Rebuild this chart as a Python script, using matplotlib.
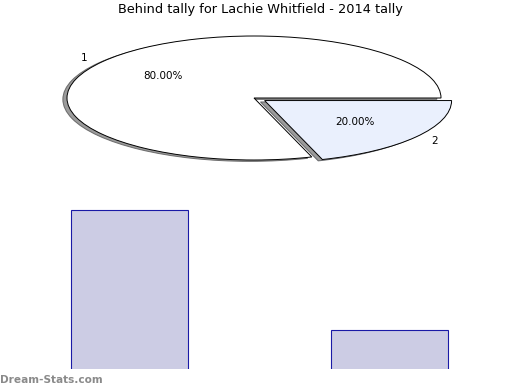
import matplotlib
matplotlib.use('Agg')
import matplotlib.pyplot as plt

title = 'Behind tally for Lachie Whitfield - 2014 tally'
slice_labels = ['1', '2']
slice_values = [80, 20]
slice_colors = ['#ffffff', '#eaf0fd']
bar_cats = ['1', '2']
bar_values = [4, 1]

W, H = 520, 390
fig = plt.figure(figsize=(W / 100, H / 100), dpi=100)

def px_axes(left, top, right, bottom):
    return fig.add_axes([left / W, 1 - bottom / H, (right - left) / W, (bottom - top) / H])

# squashed pie: centre (254, 98), rx 187, ry 62
cx, cy, rx, ry = 254, 98, 187, 62
ax = px_axes(cx - 1.3 * rx, cy - 1.3 * ry, cx + 1.3 * rx, cy + 1.3 * ry)
wedges, texts, autotexts = ax.pie(slice_values, labels=slice_labels, colors=slice_colors,
                                  explode=[0, 0.07], startangle=0, counterclock=True,
                                  autopct='%.2f%%', pctdistance=0.6, labeldistance=1.1,
                                  shadow={'ox': -0.016, 'oy': -0.016, 'facecolor': '#7a7a7a', 'alpha': 0.75},
                                  wedgeprops={'edgecolor': 'black', 'linewidth': 0.7},
                                  textprops={'fontsize': 7.5})
ax.set_aspect('auto')
ax.set_xlim(-1.3, 1.3)
ax.set_ylim(-1.3, 1.3)
ax.axis('off')

fig.text(0.5, 1 - 10 / H, title, ha='center', va='center', fontsize=9.3)

# bars
bx = px_axes(0, 190, W, 369)
bx.bar(range(len(bar_cats)), bar_values, width=0.45, color='#ccccE4',
       edgecolor='#1a1aa6', linewidth=0.8)
bx.set_xlim(-0.498, 1.502)
bx.set_ylim(0.025, 4.5)
bx.axis('off')

fig.text(0, 1 - 380 / H, 'Dream-Stats.com', ha='left', va='center', fontsize=7.6,
         color='#8a8a8a', fontweight='bold')

fig.savefig('out.png', dpi=100)
